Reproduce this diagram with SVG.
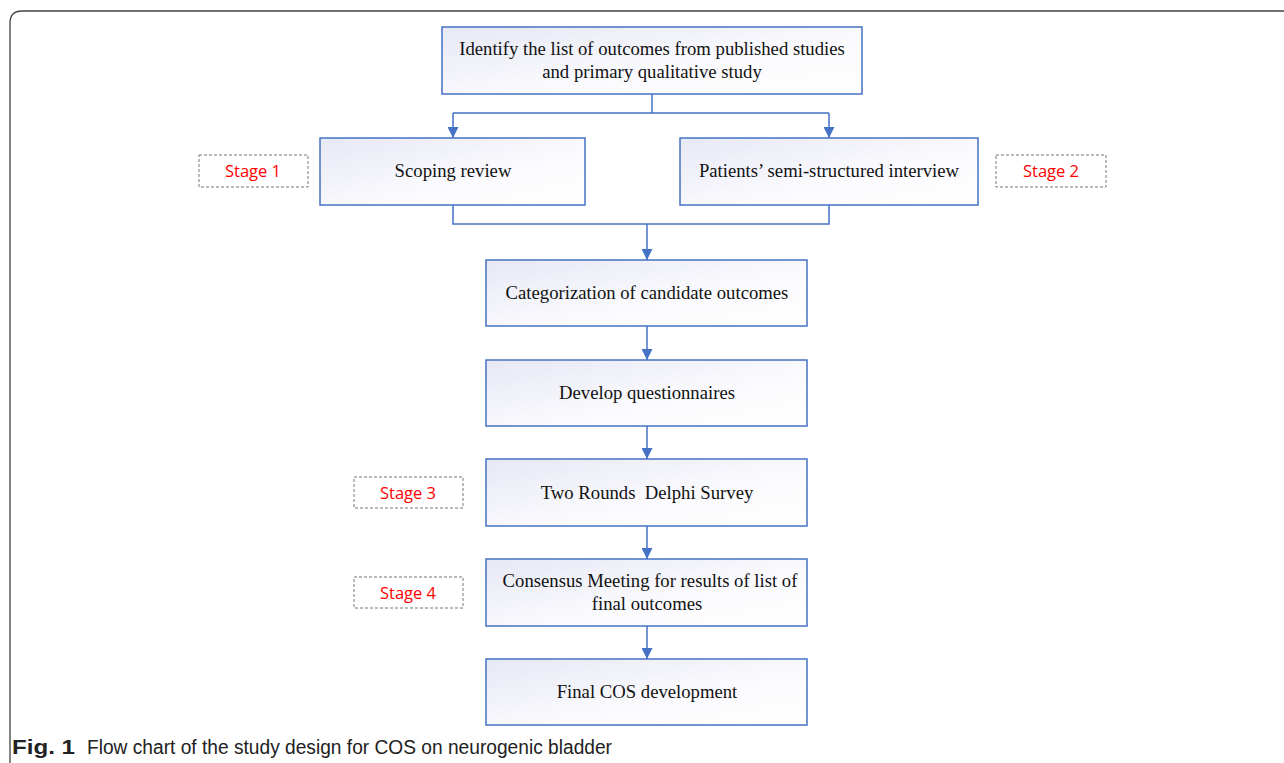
<svg xmlns="http://www.w3.org/2000/svg" width="1284" height="763" viewBox="0 0 1284 763">
<defs>
<linearGradient id="g" x1="0" y1="0" x2="1" y2="1">
<stop offset="0" stop-color="#e6e8f4"/>
<stop offset="0.6" stop-color="#fbfbfe"/>
<stop offset="1" stop-color="#ffffff"/>
</linearGradient>
<marker id="ah" viewBox="0 0 10 10" refX="10" refY="5" markerWidth="11" markerHeight="11" markerUnits="userSpaceOnUse" orient="auto">
<path d="M0,0 L10,5 L0,10 Z" fill="#4472c4"/>
</marker>
<style>
.box{fill:url(#g);stroke:#4472c4;stroke-width:1.5}
.t{font-family:"Liberation Serif","Times New Roman",serif;font-size:18.7px;fill:#111;text-anchor:middle}
.stage{fill:#fff;stroke:#777;stroke-width:1;stroke-dasharray:3,2}
.st{font-family:"Open Sans","Liberation Sans",sans-serif;font-size:16.5px;fill:#ff0000;text-anchor:middle}
.c{fill:none;stroke:#4472c4;stroke-width:1.5}
.cap{font-family:"Liberation Sans",Arial,sans-serif;font-size:20px;fill:#222}
</style>
</defs>
<rect x="0" y="0" width="1284" height="763" fill="#fff"/>
<path d="M10,763 L10,23 Q10,11 22,11 L1284,11" fill="none" stroke="#444" stroke-width="1.3"/>
<g id="connectors">
<path class="c" d="M652,94 V113 M453,113 H829"/>
<path class="c" d="M453,113 V138" marker-end="url(#ah)"/>
<path class="c" d="M829,113 V138" marker-end="url(#ah)"/>
<path class="c" d="M453,205 V224 H829 V205"/>
<path class="c" d="M647,224 V260" marker-end="url(#ah)"/>
<path class="c" d="M647,326 V360" marker-end="url(#ah)"/>
<path class="c" d="M647,426 V459" marker-end="url(#ah)"/>
<path class="c" d="M647,526 V559" marker-end="url(#ah)"/>
<path class="c" d="M647,626 V659" marker-end="url(#ah)"/>
</g>
<g id="n1"><rect class="box" x="442" y="27" width="420" height="67"/><text class="t" x="652" y="55">Identify the list of outcomes from published studies</text><text class="t" x="652" y="78">and primary qualitative study</text></g>
<g id="n2"><rect class="box" x="320" y="138" width="265" height="67"/><text class="t" x="453" y="177">Scoping review</text></g>
<g id="n3"><rect class="box" x="680" y="138" width="298" height="67"/><text class="t" x="829" y="177">Patients’ semi-structured interview</text></g>
<g id="n4"><rect class="box" x="486" y="260" width="321" height="66"/><text class="t" x="647" y="299">Categorization of candidate outcomes</text></g>
<g id="n5"><rect class="box" x="486" y="360" width="321" height="66"/><text class="t" x="647" y="399">Develop questionnaires</text></g>
<g id="n6"><rect class="box" x="486" y="459" width="321" height="67"/><text class="t" x="647" y="499" xml:space="preserve">Two Rounds  Delphi Survey</text></g>
<g id="n7"><rect class="box" x="486" y="559" width="321" height="67"/><text class="t" x="650" y="587">Consensus Meeting for results of list of</text><text class="t" x="647" y="610">final outcomes</text></g>
<g id="n8"><rect class="box" x="486" y="659" width="321" height="66"/><text class="t" x="647" y="698">Final COS development</text></g>
<g id="s1"><rect class="stage" x="199" y="155" width="109" height="32"/><text class="st" x="253" y="177">Stage 1</text></g>
<g id="s2"><rect class="stage" x="996" y="155" width="110" height="32"/><text class="st" x="1051" y="177">Stage 2</text></g>
<g id="s3"><rect class="stage" x="354" y="477" width="109" height="31"/><text class="st" x="408" y="499">Stage 3</text></g>
<g id="s4"><rect class="stage" x="354" y="577" width="109" height="31"/><text class="st" x="408" y="599">Stage 4</text></g>
<text class="cap" x="12" y="754"><tspan font-weight="bold" textLength="63" lengthAdjust="spacingAndGlyphs">Fig. 1</tspan><tspan x="87" textLength="525" lengthAdjust="spacingAndGlyphs">Flow chart of the study design for COS on neurogenic bladder</tspan></text>
</svg>
